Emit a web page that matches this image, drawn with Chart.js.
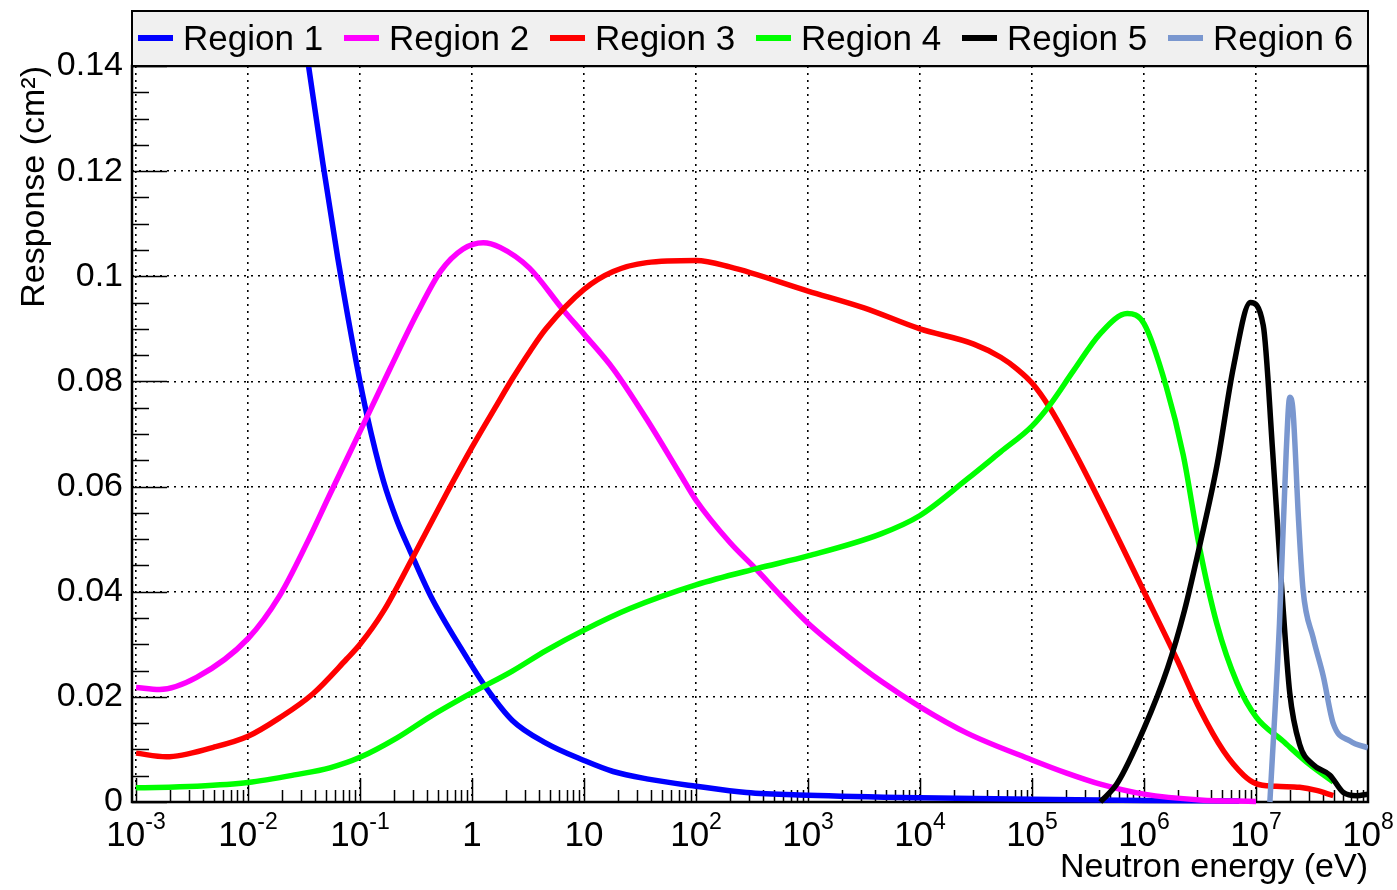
<!DOCTYPE html>
<html>
<head>
<meta charset="utf-8">
<script src="https://cdn.jsdelivr.net/npm/chart.js@4.4.1/dist/chart.umd.min.js"></script>
<style>
  html, body { margin: 0; padding: 0; background: #fff; }
  #wrap { width: 1397px; height: 890px; position: relative; }
</style>
</head>
<body>
<div id="wrap"><canvas id="c"></canvas></div>
<script>
const FONT = '"Liberation Sans", Arial, Helvetica, sans-serif';

// series names and colours
const names = ['Region 1', 'Region 2', 'Region 3', 'Region 4', 'Region 5', 'Region 6'];
const colors = ['#0000ff', '#ff00ff', '#ff0000', '#00ff00', '#000000', '#7a97cf'];

// energies (eV) and responses (cm^2)
const r1E = [0.0347, 0.0468, 0.0631, 0.0933, 0.115, 0.162, 0.214, 0.282, 0.427, 0.832, 1.35, 2.29, 4.57, 10, 18.2, 36.3, 100, 282, 1000, 1e4, 1e5, 1e6, 7.08e6];
const r1V = [0.140, 0.1212, 0.1036, 0.0832, 0.0737, 0.061, 0.0535, 0.0476, 0.0392, 0.0286, 0.0216, 0.0155, 0.0112, 0.0079, 0.0058, 0.0044, 0.003, 0.0018, 0.0013, 0.0008, 0.0005, 0.0003, 0.0002];

const r2E = [0.001, 0.00162, 0.00347, 0.01, 0.0191, 0.0331, 0.0537, 0.1, 0.186, 0.324, 0.525, 0.832, 1.26, 1.78, 3.24, 6.46, 10, 18.2, 36.3, 72.4, 100, 200, 347, 562, 1000, 2240, 4470, 1e4, 2.63e4, 1e5, 2.04e5, 4.07e5, 1e6, 3.16e6, 1e7];
const r2V = [0.0218, 0.0214, 0.0237, 0.0311, 0.0392, 0.049, 0.0585, 0.0705, 0.0825, 0.0930, 0.1010, 0.1052, 0.1064, 0.1055, 0.1016, 0.0937, 0.0890, 0.0824, 0.0728, 0.0623, 0.0574, 0.0494, 0.0442, 0.0394, 0.0340, 0.0278, 0.0230, 0.0181, 0.0131, 0.0080, 0.0055, 0.0034, 0.0015, 0.0004, 0.0001];

const r3E = [0.001, 0.00186, 0.0049, 0.01, 0.0191, 0.038, 0.0759, 0.1, 0.162, 0.302, 0.603, 1, 1.66, 2.29, 3.31, 4.57, 10, 18.2, 36.3, 100, 200, 1000, 3160, 1e4, 3.02e4, 5.25e4, 7.41e4, 1e5, 1.45e5, 2.34e5, 4.07e5, 1e6, 1.95e6, 3.16e6, 5.13e6, 7.76e6, 1e7, 1.51e7, 2.45e7, 3.47e7, 4.9e7];
const r3V = [0.0093, 0.0086, 0.0104, 0.0125, 0.016, 0.0206, 0.0272, 0.030, 0.0363, 0.0469, 0.0590, 0.0675, 0.0755, 0.0805, 0.0858, 0.0900, 0.0975, 0.1009, 0.1026, 0.103, 0.1018, 0.0972, 0.094, 0.090, 0.0871, 0.0846, 0.0823, 0.0797, 0.0749, 0.0670, 0.0570, 0.040, 0.0273, 0.0176, 0.0097, 0.0051, 0.0035, 0.0030, 0.0028, 0.0022, 0.0012];

const r4E = [0.001, 0.00347, 0.01, 0.0269, 0.0537, 0.1, 0.214, 0.427, 1, 2.29, 4.57, 10, 25.7, 100, 347, 1000, 4470, 1e4, 2.63e4, 5.25e4, 1e5, 1.45e5, 2.34e5, 4.07e5, 7.08e5, 1e6, 1.58e6, 2.24e6, 3.16e6, 4.47e6, 6.76e6, 1e7, 1.74e7, 3.02e7, 4.9e7];
const r4V = [0.0027, 0.003, 0.0037, 0.0052, 0.0065, 0.0085, 0.0122, 0.0163, 0.0208, 0.0249, 0.0288, 0.0327, 0.0368, 0.0413, 0.0444, 0.0468, 0.0510, 0.0545, 0.0614, 0.0666, 0.0715, 0.0756, 0.082, 0.0891, 0.0929, 0.091, 0.079, 0.066, 0.048, 0.0339, 0.0227, 0.0162, 0.0116, 0.0071, 0.0038];

const r5E = [4.07e5, 5.75e5, 1e6, 1.62e6, 2.29e6, 3.16e6, 4.47e6, 6.31e6, 8.91e6, 1.16e7, 1.41e7, 1.7e7, 2.0e7, 2.45e7, 3.24e7, 4.57e7, 6.03e7, 7.94e7, 1e8];
const r5V = [0.0, 0.0035, 0.0140, 0.0254, 0.0363, 0.049, 0.0639, 0.0829, 0.095, 0.0907, 0.0665, 0.0404, 0.0208, 0.011, 0.0071, 0.0051, 0.0018, 0.0012, 0.0015];

const r6E = [1.33e7, 1.62e7, 1.86e7, 2.0e7, 2.14e7, 2.4e7, 2.63e7, 3.24e7, 3.98e7, 4.9e7, 6.92e7, 1e8];
const r6V = [0.0, 0.0339, 0.0665, 0.077, 0.0744, 0.0535, 0.0404, 0.0312, 0.024, 0.0149, 0.0116, 0.0103];

// axis ticks
const xTickVals = [1e-3, 1e-2, 1e-1, 1, 10, 1e2, 1e3, 1e4, 1e5, 1e6, 1e7, 1e8];
const xTickBase = ['10', '10', '10', '1', '10', '10', '10', '10', '10', '10', '10', '10'];
const xTickExp = ['-3', '-2', '-1', '', '', '2', '3', '4', '5', '6', '7', '8'];
const yTickStep = 0.02;
const yMinorStep = 0.005;

const series = [[r1E, r1V], [r2E, r2V], [r3E, r3V], [r4E, r4V], [r5E, r5V], [r6E, r6V]];

// ROOT-like frame, inward ticks, superscript x labels
const rootAxes = {
  id: 'rootAxes',
  beforeDatasetsDraw(chart) {
    const { ctx, chartArea: a, scales: { x, y } } = chart;
    ctx.save();
    ctx.strokeStyle = '#000';
    ctx.lineWidth = 1.5;
    ctx.beginPath();
    // y ticks
    for (let v = 0; v <= 0.14 + 1e-9; v += yMinorStep) {
      const py = Math.round(y.getPixelForValue(v)) + 0.5;
      const major = Math.abs(v / yTickStep - Math.round(v / yTickStep)) < 1e-6;
      ctx.moveTo(a.left, py);
      ctx.lineTo(a.left + (major ? 35 : 17), py);
    }
    // x ticks
    for (let d = -3; d <= 7; d++) {
      for (let k = 1; k <= 9; k++) {
        const v = k * Math.pow(10, d);
        const px = Math.round(x.getPixelForValue(v)) + 0.5;
        ctx.moveTo(px, a.bottom);
        ctx.lineTo(px, a.bottom - (k === 1 ? 24 : 12));
      }
    }
    const p8 = x.getPixelForValue(1e8);
    ctx.moveTo(p8, a.bottom);
    ctx.lineTo(p8, a.bottom - 24);
    ctx.stroke();
    // frame
    ctx.lineWidth = 2.5;
    ctx.strokeRect(a.left, a.top, a.right - a.left, a.bottom - a.top);
    ctx.restore();
  },
  afterDraw(chart) {
    const { ctx, chartArea: a, scales: { x } } = chart;
    ctx.save();
    // x tick labels with superscripts
    ctx.fillStyle = '#000';
    ctx.textBaseline = 'alphabetic';
    ctx.textAlign = 'left';
    xTickVals.forEach((v, i) => {
      const px = x.getPixelForValue(v);
      ctx.font = '35px ' + FONT;
      const wb = ctx.measureText(xTickBase[i]).width;
      ctx.font = '23px ' + FONT;
      const we = xTickExp[i] ? ctx.measureText(xTickExp[i]).width : 0;
      const x0 = px - (wb + we) / 2;
      ctx.font = '35px ' + FONT;
      ctx.fillText(xTickBase[i], x0, a.bottom + 44);
      if (xTickExp[i]) {
        ctx.font = '23px ' + FONT;
        ctx.fillText(xTickExp[i], x0 + wb, a.bottom + 27);
      }
    });
    // legend box
    const bx = a.left, by = 11, bw = a.right - a.left, bh = a.top - 11;
    ctx.fillStyle = '#f0f0f0';
    ctx.fillRect(bx, by, bw, bh);
    ctx.strokeStyle = '#000';
    ctx.lineWidth = 2;
    ctx.strokeRect(bx, by, bw, bh);
    const colW = bw / 6;
    ctx.font = '35px ' + FONT;
    names.forEach((n, i) => {
      const x0 = bx + 6 + i * colW;
      ctx.strokeStyle = colors[i];
      ctx.lineWidth = 6;
      ctx.beginPath();
      ctx.moveTo(x0, 38);
      ctx.lineTo(x0 + 35, 38);
      ctx.stroke();
      ctx.fillStyle = '#000';
      ctx.fillText(n, x0 + 45, 50);
    });
    ctx.restore();
  }
};

Chart.defaults.font.family = FONT;
Chart.defaults.color = '#000';

new Chart(document.getElementById('c'), {
  type: 'line',
  data: {
    datasets: series.map(([e, v], i) => ({
      label: names[i],
      data: e.map((xv, j) => ({ x: xv, y: v[j] })),
      borderColor: colors[i],
      backgroundColor: colors[i],
      borderWidth: 5.5,
      pointRadius: 0,
      cubicInterpolationMode: 'monotone',
      fill: false,
      order: 6 - i,
      clip: { left: 0, top: 0, right: 0, bottom: 6 }
    }))
  },
  options: {
    responsive: true,
    maintainAspectRatio: false,
    animation: false,
    layout: { padding: { top: 66, right: 29, left: 0, bottom: 0 } },
    plugins: { legend: { display: false }, tooltip: { enabled: false } },
    scales: {
      x: {
        type: 'logarithmic',
        min: 0.00092,
        max: 1e8,
        afterBuildTicks: s => { s.ticks = xTickVals.map(v => ({ value: v })); },
        afterFit: s => { s.height = 88; },
        ticks: { display: false },
        grid: { color: '#000', lineWidth: 1.6, drawTicks: false },
        border: { display: false, dash: [2, 5] },
        title: {
          display: true,
          text: 'Neutron energy (eV)',
          align: 'end',
          font: { size: 34 },
          padding: { top: 0, bottom: 2 }
        }
      },
      y: {
        min: 0,
        max: 0.14,
        afterFit: s => { s.width = 132; },
        ticks: {
          stepSize: yTickStep,
          padding: 9,
          font: { size: 34 },
          callback: v => String(+v.toFixed(2))
        },
        grid: { color: '#000', lineWidth: 1.6, drawTicks: false },
        border: { display: false, dash: [2, 5] },
        title: {
          display: true,
          text: 'Response (cm²)',
          align: 'end',
          font: { size: 34 },
          padding: { top: 14, bottom: 0 }
        }
      }
    }
  },
  plugins: [rootAxes]
});
</script>
</body>
</html>
